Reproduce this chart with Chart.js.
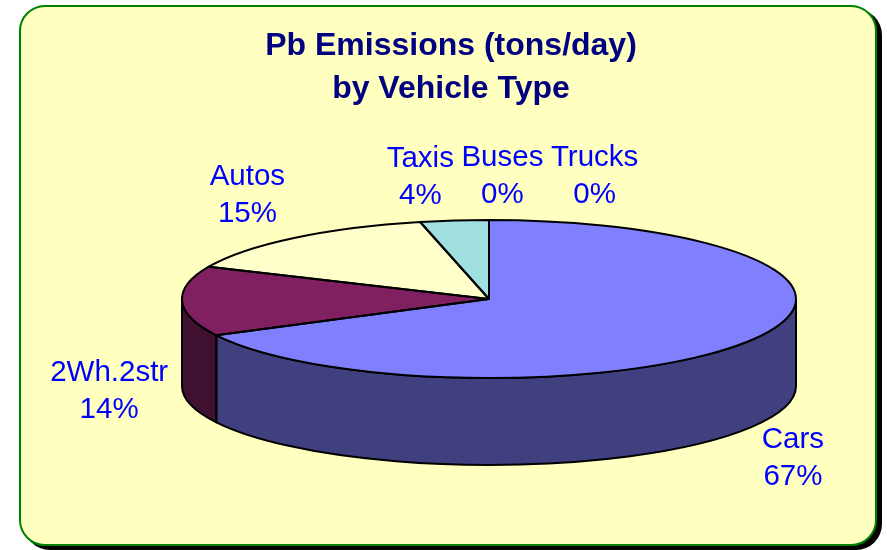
<!DOCTYPE html>
<html>
<head>
<meta charset="utf-8">
<script src="https://cdn.jsdelivr.net/npm/chart.js@4/dist/chart.umd.min.js"></script>
<style>
  html, body { margin: 0; padding: 0; background: #ffffff; }
  #stage { position: relative; width: 887px; height: 550px; overflow: hidden; }
  #frame {
    position: absolute; left: 19px; top: 5px; width: 858px; height: 541px;
    box-sizing: border-box; border: 2px solid #008000; border-radius: 26px;
    background: #FFFFC0; box-shadow: 5px 4px 0 #000000;
  }
  #chart { position: absolute; left: 0; top: 0; }
</style>
</head>
<body>
<div id="stage">
  <div id="frame"></div>
  <canvas id="chart" width="887" height="550"></canvas>
</div>
<script>
// Lead (Pb) emissions share by vehicle type, in percent
const categories = ['Cars', '2Wh.2str', 'Autos', 'Taxis', 'Buses', 'Trucks'];
const emissionShare = [67.4, 14.3, 14.7, 3.6, 0, 0];
const titleLines = ['Pb Emissions (tons/day)', 'by Vehicle Type'];

// Slice face colours (the walls use a darker shade of the same colour)
const sliceColors = ['#8080FF', '#802060', '#FFFFCC', '#A0E0E0', '#9999FF', '#993366'];

// Small label adjustments [dx, dy] in pixels
const labelNudge = [[-2, 2], [6, 2], [-10, 1], [-28, 13], [0, 13], [0, 13]];

const FONT = "'Liberation Sans', Arial, Helvetica, sans-serif";
const TILT = 0.2573;        // ellipse height / width ratio
const DEPTH = 0.2834;       // wall height relative to horizontal radius

function darken(hex, f) {
  const n = parseInt(hex.slice(1), 16);
  const r = Math.round(((n >> 16) & 255) * f);
  const g = Math.round(((n >> 8) & 255) * f);
  const b = Math.round((n & 255) * f);
  return `rgb(${r},${g},${b})`;
}

function geometry(chart) {
  const a = chart.chartArea;
  const rx = (a.right - a.left) / 2;
  const ry = rx * TILT;
  return { cx: (a.left + a.right) / 2, cy: a.top + ry, rx, ry, depth: rx * DEPTH };
}

// Draws the pie as a tilted disc with visible walls
const pie3d = {
  id: 'pie3d',
  beforeDatasetsDraw(chart) {
    const ctx = chart.ctx;
    const g = geometry(chart);
    const meta = chart.getDatasetMeta(0);
    ctx.save();
    ctx.lineWidth = 2;
    ctx.lineJoin = 'round';
    ctx.strokeStyle = '#000000';
    meta.data.forEach((el, i) => {
      const a1 = Math.max(el.startAngle, 0);
      const a2 = Math.min(el.endAngle, Math.PI);
      if (a2 <= a1) return;
      ctx.beginPath();
      ctx.ellipse(g.cx, g.cy, g.rx, g.ry, 0, a1, a2, false);
      ctx.lineTo(g.cx + g.rx * Math.cos(a2), g.cy + g.depth + g.ry * Math.sin(a2));
      ctx.ellipse(g.cx, g.cy + g.depth, g.rx, g.ry, 0, a2, a1, true);
      ctx.closePath();
      ctx.fillStyle = darken(sliceColors[i], 0.5);
      ctx.fill();
      ctx.stroke();
    });
    ctx.restore();
    // squash the library's circular slices into the top ellipse
    const el0 = meta.data[0];
    const R = el0.outerRadius;
    ctx.save();
    ctx.translate(g.cx, g.cy);
    ctx.scale(g.rx / R, g.ry / R);
    ctx.translate(-el0.x, -el0.y);
  },
  afterDatasetsDraw(chart) {
    const ctx = chart.ctx;
    ctx.restore();
    const g = geometry(chart);
    const meta = chart.getDatasetMeta(0);
    ctx.save();
    ctx.lineWidth = 2;
    ctx.lineJoin = 'round';
    ctx.strokeStyle = '#000000';
    meta.data.forEach((el) => {
      if (el.endAngle - el.startAngle <= 0) return;
      ctx.beginPath();
      ctx.moveTo(g.cx, g.cy);
      ctx.lineTo(g.cx + g.rx * Math.cos(el.startAngle), g.cy + g.ry * Math.sin(el.startAngle));
      ctx.ellipse(g.cx, g.cy, g.rx, g.ry, 0, el.startAngle, el.endAngle, false);
      ctx.closePath();
      ctx.stroke();
    });
    ctx.restore();
  }
};

// Title and slice labels
const annotations = {
  id: 'annotations',
  afterDraw(chart) {
    const ctx = chart.ctx;
    ctx.save();
    ctx.fillStyle = '#000080';
    ctx.font = `bold 32px ${FONT}`;
    ctx.textAlign = 'center';
    ctx.textBaseline = 'alphabetic';
    titleLines.forEach((t, i) => ctx.fillText(t, 451, 55 + i * 43));

    const g = geometry(chart);
    const meta = chart.getDatasetMeta(0);
    const total = emissionShare.reduce((s, v) => s + v, 0);
    const lineH = 37;
    const off = 20, gap = 7.5;
    ctx.font = `29.5px ${FONT}`;
    let prevRight = -Infinity;
    meta.data.forEach((el, i) => {
      const name = categories[i];
      const pct = Math.round(emissionShare[i] / total * 100) + '%';
      const w = Math.max(ctx.measureText(name).width, ctx.measureText(pct).width);
      const h = lineH * 2;
      const th = (el.startAngle + el.endAngle) / 2;
      const c = Math.cos(th), s = Math.sin(th);
      const ax = g.cx + g.rx * c;
      const ay = g.cy + g.ry * s + (s > 0 ? g.depth : 0);
      let x = ax + c * (w / 2 + off) + labelNudge[i][0];
      const y = ay + s * (h / 2 + off) + labelNudge[i][1];
      // keep neighbouring labels near the top from overlapping
      if (s < 0 && x - w / 2 < prevRight + gap) x = prevRight + gap + w / 2;
      if (s < 0) prevRight = x + w / 2;
      ctx.fillStyle = '#0000FF';
      ctx.textBaseline = 'middle';
      ctx.fillText(name, x, y - lineH / 2);
      ctx.fillText(pct, x, y + lineH / 2);
    });
    ctx.restore();
  }
};

new Chart(document.getElementById('chart'), {
  type: 'pie',
  data: {
    labels: categories,
    datasets: [{
      data: emissionShare,
      backgroundColor: sliceColors,
      borderWidth: 0
    }]
  },
  options: {
    responsive: false,
    animation: false,
    layout: { padding: { left: 182, right: 91, top: 220, bottom: 85 } },
    plugins: {
      legend: { display: false },
      title: { display: false },
      tooltip: { enabled: false }
    }
  },
  plugins: [pie3d, annotations]
});
</script>
</body>
</html>
